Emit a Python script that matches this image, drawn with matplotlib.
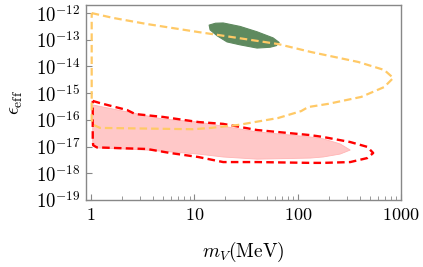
import matplotlib
matplotlib.use("Agg")
import matplotlib.pyplot as plt
import numpy as np

plt.rcParams['mathtext.fontset'] = 'cm'
plt.rcParams['font.family'] = ['DejaVu Serif']

# Orange dashed contour (closed loop): mass [MeV], log10(eps)
orange_m = [1.016, 1.63, 3.48, 10.9, 14.5, 64.6, 135, 384, 686, 839, 686, 411, 197,
            126, 108, 64.6, 26.5, 14.5, 9.7, 1.22, 1.05, 1.016, 1.016]
orange_le = [-12.0, -12.18, -12.41, -12.71, -12.78, -13.16, -13.46, -13.83, -14.13, -14.43,
             -14.77, -15.14, -15.40, -15.52, -15.67, -15.93, -16.19, -16.30, -16.35, -16.30,
             -16.18, -16.0, -12.0]

# Red dashed contour (closed loop)
red_m = [1.04, 1.22, 2.23, 2.67, 4.98, 10.9, 19.0, 40.4, 132, 176, 322, 470, 537,
         470, 322, 176, 132, 40.4, 19.0, 10.9, 5.82, 3.48, 1.63, 1.14, 1.05, 1.04, 1.04]
red_le = [-15.29, -15.37, -15.63, -15.78, -15.89, -16.08, -16.15, -16.38, -16.57, -16.64,
          -16.83, -17.01, -17.24, -17.43, -17.58, -17.61, -17.61, -17.58, -17.58, -17.39,
          -17.24, -17.09, -17.05, -17.03, -16.95, -16.75, -15.29]

# Pink filled region
pink_m = [1.04, 2.23, 4.98, 10.9, 40.4, 132, 176, 257, 322, 257, 176, 132, 40.4,
          19.0, 10.9, 3.48, 1.14, 1.06, 1.04]
pink_le = [-15.44, -15.70, -15.97, -16.08, -16.45, -16.64, -16.71, -16.90, -17.13, -17.28,
           -17.39, -17.43, -17.47, -17.39, -17.28, -17.13, -17.05, -16.98, -16.86]

# Green blob
green_m = [13.9, 16.0, 19.0, 27.7, 40.4, 57.8, 66.1, 62.0, 54.0, 40.4, 27.7, 20.7, 16.6, 14.2]
green_le = [-12.45, -12.38, -12.37, -12.50, -12.70, -12.93, -13.10, -13.22, -13.28, -13.31,
            -13.19, -13.08, -12.85, -12.63]

xticks = [1, 10, 100, 1000]
xtick_labels = ['$1$', '$10$', '$100$', '$1000$']
yticks_exp = [-19, -18, -17, -16, -15, -14, -13, -12]

fig = plt.figure(figsize=(4.23, 2.67), dpi=100)
ax = fig.add_axes([0.2033, 0.251, 0.745, 0.730])

ax.fill(pink_m, 10.0 ** np.array(pink_le), facecolor='#FFC8C8', edgecolor='#FFB4B4',
        linewidth=0.6, zorder=1)
ax.fill(green_m, 10.0 ** np.array(green_le), facecolor='#5F8A5F', edgecolor='#5F8A5F',
        linewidth=0.8, joinstyle='round', zorder=2)
ax.plot(red_m, 10.0 ** np.array(red_le), color='#FF0000', lw=1.7, dashes=(3.2, 1.8), zorder=3)
ax.plot(orange_m, 10.0 ** np.array(orange_le), color='#FFC966', lw=1.6, dashes=(3.4, 1.8), zorder=4)

ax.set_xscale('log')
ax.set_yscale('log')
ax.set_xlim(0.895, 1000)
ax.set_ylim(1e-19, 10 ** -11.7)

ax.set_xticks(xticks)
ax.set_xticklabels(xtick_labels)
ax.set_yticks([10.0 ** e for e in yticks_exp])
ax.set_yticklabels(['$10^{%d}$' % e for e in yticks_exp])
ax.yaxis.set_minor_locator(matplotlib.ticker.NullLocator())
ax.xaxis.set_minor_locator(matplotlib.ticker.LogLocator(base=10, subs=np.arange(2, 10)))
ax.xaxis.set_minor_formatter(matplotlib.ticker.NullFormatter())

for s in ax.spines.values():
    s.set_color('#888888')
    s.set_linewidth(1.0)
ax.tick_params(which='both', direction='in', color='#888888', labelsize=13,
               top=False, right=False)
ax.tick_params(which='major', length=4.5, width=0.8, pad=4)
ax.tick_params(axis='y', labelsize=13.5, pad=4)
ax.tick_params(which='minor', length=3, width=0.6)

ax.set_xlabel(r'$m_V(\mathrm{MeV})$', fontsize=14, labelpad=12)
ax.set_ylabel(r'$\epsilon_{\mathrm{eff}}$', fontsize=14, labelpad=8)

fig.savefig('out.png', dpi=100)
